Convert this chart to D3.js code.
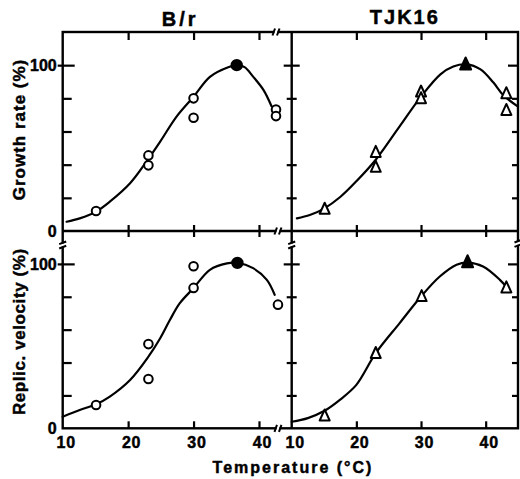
<!DOCTYPE html>
<html><head><meta charset="utf-8">
<script src="https://cdn.jsdelivr.net/npm/d3@7"></script>
<style>
html,body{margin:0;padding:0;background:#fff;}
svg{display:block;}
text{font-family:"Liberation Sans",Arial,sans-serif;font-weight:bold;fill:#000;stroke:#000;stroke-width:0.45px;}
</style></head><body>
<svg id="chart" width="520" height="479"></svg>
<script>
// ---------- data ----------
const panelTitles = ["B/r", "TJK16"];
const yTitles = ["Growth rate (%)", "Replic. velocity (%)"];
const xTitle = "Temperature (°C)";
const xTickLabels = [10, 20, 30, 40];
const xMinorTicks = [20, 30, 40];
const yTickLabels = [0, 100];
const yMinorTicks = [20, 40, 60, 80, 100];

// B/r growth rate
const brGrowthTemp   = [15.1, 23.1, 23.1, 30, 30, 36.6, 42.6, 42.6];
const brGrowthRate   = [12.1, 45.6, 39.6, 80, 68.3, 100, 73.3, 69.3];
const brGrowthFilled = [0, 0, 0, 0, 0, 1, 0, 0];
const brGrowthFitTemp = [10.6, 12.6, 15.1, 17.2, 20.3, 22.9, 24.9, 27.4, 30, 32.5, 35.3, 36.6, 37.8, 39.1, 40.7, 41.9];
const brGrowthFitRate = [5.6, 7.6, 11.7, 17.7, 28.8, 42.4, 53.9, 69, 81, 93, 98.8, 100, 98.8, 93.1, 85, 75.4];

// TJK16 growth rate
const tjkGrowthTemp   = [15.1, 23, 23, 30, 30, 36.9, 43.2, 43.2];
const tjkGrowthRate   = [13.7, 48, 39, 84.4, 80.4, 101, 83.4, 73.3];
const tjkGrowthFilled = [0, 0, 0, 0, 0, 1, 0, 0];
const tjkGrowthFitTemp = [10.8, 12.8, 15, 17.5, 20, 23, 26.5, 30, 33, 35, 37, 39.2, 41.2, 42.7, 45];
const tjkGrowthFitRate = [7.6, 9.6, 13.5, 20.5, 30, 43, 62, 81, 94.5, 99.2, 100.5, 97.5, 89.5, 82, 75];

// B/r replication velocity
const brReplTemp   = [15.1, 23.1, 23.1, 30, 30, 36.7, 42.9];
const brReplVel    = [14.2, 51.2, 30, 98.6, 85.4, 100.6, 75.2];
const brReplFilled = [0, 0, 0, 0, 0, 1, 0];
const brReplFitTemp = [10, 12.6, 15.1, 17.2, 20.3, 23.1, 24.9, 26.4, 27.9, 30, 32.5, 35.1, 36.7, 39.1, 41.2, 42.4];
const brReplFitVel  = [7, 11.1, 14.6, 19.3, 29.4, 43.6, 54.8, 66, 76.1, 85.3, 96.4, 100.3, 100.6, 97.4, 90.3, 81.2];

// TJK16 replication velocity
const tjkReplTemp   = [15.1, 23, 30.1, 37.2, 43.2];
const tjkReplVel    = [8.1, 46.1, 80.7, 101.6, 86];
const tjkReplFilled = [0, 0, 0, 1, 0];
const tjkReplFitTemp = [10, 12.5, 15, 17.5, 20, 23, 26.7, 30.1, 32.9, 35.5, 37.2, 39.6, 42.2, 43.2];
const tjkReplFitVel  = [4, 6.2, 10.5, 17.5, 26.4, 45.7, 64, 80.6, 92.3, 99.5, 100.8, 98.4, 90.3, 86];

// ---------- scales ----------
const svg = d3.select("#chart");
const xLeft  = d3.scaleLinear().domain([10, 45]).range([62.7, 291.7]);
const xRight = d3.scaleLinear().domain([10, 45]).range([291.7, 518]);
const yTop = d3.scaleLinear().domain([0, 120]).range([231, 32]);
const yBot = d3.scaleLinear().domain([0, 120]).range([428.3, 231]);

const panels = [
  {x: xLeft,  y: yTop, t: brGrowthTemp,  v: brGrowthRate, f: brGrowthFilled, ft: brGrowthFitTemp,  fv: brGrowthFitRate, m: "circle"},
  {x: xRight, y: yTop, t: tjkGrowthTemp, v: tjkGrowthRate, f: tjkGrowthFilled, ft: tjkGrowthFitTemp, fv: tjkGrowthFitRate, m: "triangle"},
  {x: xLeft,  y: yBot, t: brReplTemp,  v: brReplVel, f: brReplFilled, ft: brReplFitTemp, fv: brReplFitVel, m: "circle"},
  {x: xRight, y: yBot, t: tjkReplTemp, v: tjkReplVel, f: tjkReplFilled, ft: tjkReplFitTemp, fv: tjkReplFitVel, m: "triangle"}
];

const SW = 2.4;
// ---------- frame ----------
const L = xLeft.range()[0], M = xLeft.range()[1], R = xRight.range()[1];
const T = yTop.range()[1], C = yTop.range()[0], B = yBot.range()[0];
const frame = svg.append("g").attr("stroke", "#000").attr("stroke-width", SW).attr("fill", "none");
frame.append("rect").attr("x", L).attr("y", T).attr("width", R - L).attr("height", B - T);
frame.append("line").attr("x1", M).attr("x2", M).attr("y1", T).attr("y2", B);
frame.append("line").attr("x1", L).attr("x2", R).attr("y1", C).attr("y2", C);

function styleAxis(g) {
  g.select(".domain").remove();
  g.selectAll(".tick line").attr("stroke", "#000").attr("stroke-width", 2.2);
  g.selectAll(".tick text").attr("fill", "#000").attr("font-size", 16)
    .attr("font-family", '"Liberation Sans",Arial,sans-serif').attr("font-weight", "bold");
}

// x ticks
[xLeft, xRight].forEach(x => {
  svg.append("g").attr("transform", `translate(0,${T})`)
    .call(d3.axisBottom(x).tickValues(xMinorTicks).tickSize(8).tickFormat("")).call(styleAxis);
  svg.append("g").attr("transform", `translate(0,${C})`)
    .call(d3.axisBottom(x).tickValues(xMinorTicks).tickSize(6).tickFormat("")).call(styleAxis);
  svg.append("g").attr("transform", `translate(0,${C})`)
    .call(d3.axisTop(x).tickValues(xMinorTicks).tickSize(6).tickFormat("")).call(styleAxis);
  svg.append("g").attr("transform", `translate(0,${B})`)
    .call(d3.axisTop(x).tickValues(xMinorTicks).tickSize(7).tickFormat("")).call(styleAxis);
  const lab = svg.append("g").attr("transform", `translate(0,${B})`)
    .call(d3.axisBottom(x).tickValues(xTickLabels).tickSize(0).tickPadding(8)).call(styleAxis);
  lab.selectAll(".tick text").attr("dx", 3).attr("letter-spacing", 0.8);
});

// y ticks
[yTop, yBot].forEach(y => {
  const small = yMinorTicks.filter(d => d !== 100);
  // left border: inward ticks, 100 also crosses outward
  svg.append("g").attr("transform", `translate(${L},0)`)
    .call(d3.axisRight(y).tickValues(small).tickSize(9).tickFormat("")).call(styleAxis);
  svg.append("g").attr("transform", `translate(${L},0)`)
    .call(d3.axisRight(y).tickValues([100]).tickSize(12).tickFormat("")).call(styleAxis);
  svg.append("g").attr("transform", `translate(${L},0)`)
    .call(d3.axisLeft(y).tickValues([100]).tickSize(5).tickFormat("")).call(styleAxis);
  svg.append("g").attr("transform", `translate(${L},0)`)
    .call(d3.axisLeft(y).tickValues(yTickLabels).tickSize(0).tickPadding(6)).call(styleAxis);
  // middle divider: crossing ticks
  [d3.axisLeft, d3.axisRight].forEach(ax => {
    svg.append("g").attr("transform", `translate(${M},0)`)
      .call(ax(y).tickValues(small).tickSize(5).tickFormat("")).call(styleAxis);
    svg.append("g").attr("transform", `translate(${M},0)`)
      .call(ax(y).tickValues([100]).tickSize(8).tickFormat("")).call(styleAxis);
  });
  // right border: inward
  svg.append("g").attr("transform", `translate(${R},0)`)
    .call(d3.axisLeft(y).tickValues(small).tickSize(6).tickFormat("")).call(styleAxis);
  svg.append("g").attr("transform", `translate(${R},0)`)
    .call(d3.axisLeft(y).tickValues([100]).tickSize(10).tickFormat("")).call(styleAxis);
});

// ---------- axis break marks ----------
function breakH(x, y) {
  const g = svg.append("g");
  g.append("rect").attr("x", x - 1.5).attr("y", y - 2).attr("width", 3).attr("height", 4).attr("fill", "#fff");
  g.append("line").attr("x1", x - 3.5).attr("y1", y + 3.5).attr("x2", x - 1).attr("y2", y - 3.5)
    .attr("stroke", "#000").attr("stroke-width", 2);
  g.append("line").attr("x1", x + 1).attr("y1", y + 3.5).attr("x2", x + 3.5).attr("y2", y - 3.5)
    .attr("stroke", "#000").attr("stroke-width", 2);
}
function breakV(x, y) {
  const g = svg.append("g");
  g.append("rect").attr("x", x - 2).attr("y", y - 1.5).attr("width", 4).attr("height", 3).attr("fill", "#fff");
  g.append("line").attr("x1", x - 3.5).attr("y1", y - 0.8).attr("x2", x + 3.5).attr("y2", y - 3.5)
    .attr("stroke", "#000").attr("stroke-width", 2);
  g.append("line").attr("x1", x - 3.5).attr("y1", y + 3.5).attr("x2", x + 3.5).attr("y2", y + 0.8)
    .attr("stroke", "#000").attr("stroke-width", 2);
}
const xBreak = 42.6;
const yBreak = 111.5;
breakH(xLeft(xBreak), T);
breakH(xLeft(xBreak + 0.3), C);
breakH(xLeft(xBreak + 0.3), B);
breakV(L, yBot(yBreak));
breakV(M, yBot(yBreak));
breakV(R, yBot(yBreak + 1));

// ---------- curves ----------
panels.forEach(p => {
  const pts = p.ft.map((t, i) => [t, p.fv[i]]);
  const line = d3.line().x(d => p.x(d[0])).y(d => p.y(d[1])).curve(d3.curveCatmullRom.alpha(0.5));
  svg.append("path").attr("d", line(pts)).attr("fill", "none").attr("stroke", "#000")
    .attr("stroke-width", 2.2).attr("stroke-linecap", "round");
});

// ---------- markers ----------
panels.forEach(p => {
  const g = svg.append("g");
  p.t.forEach((t, i) => {
    const cx = p.x(t), cy = p.y(p.v[i]);
    const filled = p.f[i] === 1;
    if (p.m === "circle") {
      g.append("circle").attr("cx", cx).attr("cy", cy).attr("r", filled ? 5.2 : 4.3)
        .attr("fill", filled ? "#000" : "#fff").attr("stroke", "#000").attr("stroke-width", 2);
    } else {
      const w = filled ? 11 : 10, h = filled ? 12 : 11;
      g.append("path")
        .attr("d", `M${cx},${cy - h / 2}L${cx + w / 2},${cy + h / 2}L${cx - w / 2},${cy + h / 2}Z`)
        .attr("fill", filled ? "#000" : "#fff").attr("stroke", "#000").attr("stroke-width", 2)
        .attr("stroke-linejoin", "round");
    }
  });
});

// ---------- titles ----------
svg.append("text").attr("x", d3.mean(xLeft.range()) + 3).attr("y", 26).attr("text-anchor", "middle")
  .attr("font-size", 20).attr("letter-spacing", 3).text(panelTitles[0]);
svg.append("text").attr("x", d3.mean(xRight.range())).attr("y", 24).attr("text-anchor", "middle")
  .attr("font-size", 20).attr("letter-spacing", 2).text(panelTitles[1]);
svg.append("text").attr("transform", `translate(25,${d3.mean(yTop.range()) - 2}) rotate(-90)`)
  .attr("text-anchor", "middle").attr("font-size", 17).attr("letter-spacing", 1).text(yTitles[0]);
svg.append("text").attr("transform", `translate(25,${d3.mean(yBot.range()) + 2}) rotate(-90)`)
  .attr("text-anchor", "middle").attr("font-size", 17).attr("letter-spacing", 0.6).text(yTitles[1]);
svg.append("text").attr("x", 293).attr("y", 473).attr("text-anchor", "middle")
  .attr("font-size", 16).attr("letter-spacing", 2).text(xTitle);
</script>
</body></html>
